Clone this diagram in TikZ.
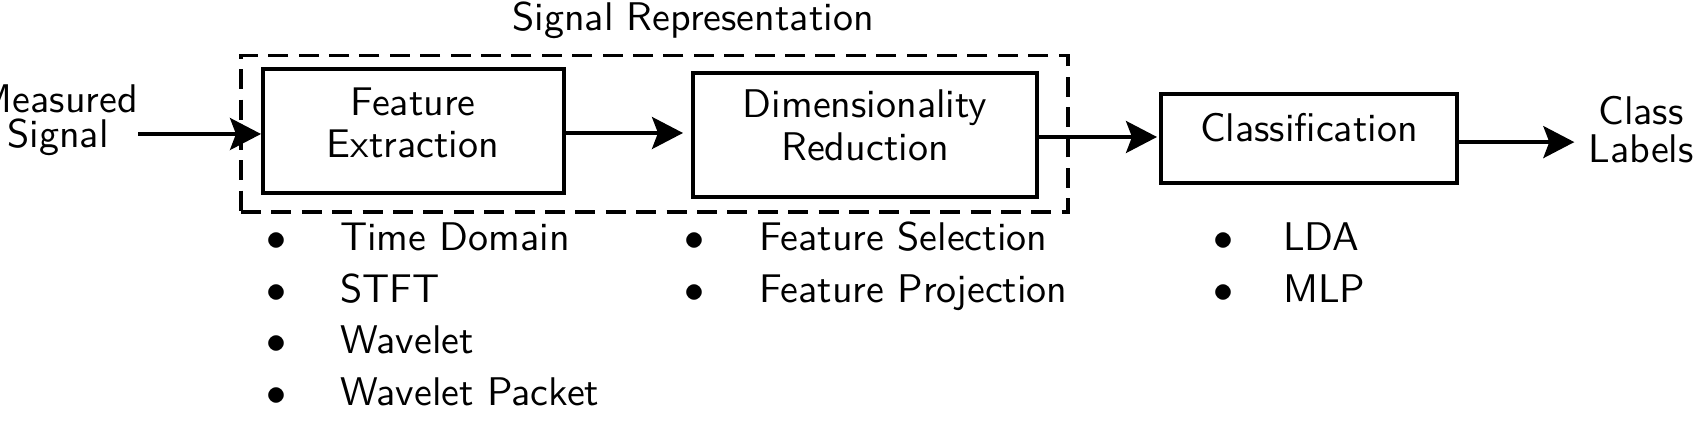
\documentclass[tikz,border=0pt]{standalone}
\usetikzlibrary{arrows.meta}
\begin{document}
\begin{tikzpicture}[x=0.25pt,y=-0.25pt,
  every node/.style={inner sep=0pt,outer sep=0pt,font=\sffamily\fontsize{10}{12}\selectfont},
  box/.style={draw,line width=0.85pt,minimum width=#1},
  dashbox/.style={draw,line width=0.85pt,dash pattern=on 5pt off 2.6pt},
  arr/.style={line width=0.85pt,-{Stealth[length=7.75pt,width=8pt,inset=1.5pt]}},
  bul/.style={anchor=base},
  item/.style={anchor=base west}]
\useasboundingbox (0,0) rectangle (1705,448);
% dashed group
\node[dashbox,minimum width=206.75pt,minimum height=39.1pt] (grp) at (654.5,133.75) {};
\node (grpT) at (693,20) {Signal Representation};
% boxes
\node[box=75.25pt,minimum height=31pt] (fe) at (413.5,131) {};
\node[box=86pt,minimum height=31pt] (dr) at (865,135) {};
\node[box=74pt,minimum height=22.25pt] (cls) at (1309,138.5) {};
% texts
\node[align=center,font=\sffamily\fontsize{10}{8.75}\selectfont] (ms) at (58,120.5) {Measured\\Signal};
\node[align=center,font=\sffamily\fontsize{10}{10.5}\selectfont] (feT) at (413,123) {Feature\\Extraction};
\node[align=center,font=\sffamily\fontsize{10}{10.75}\selectfont] (drT) at (865,125.6) {Dimensionality\\Reduction};
\node (clsT) at (1309,128) {Classification};
\node[align=center,font=\sffamily\fontsize{10}{9.5}\selectfont] (cl) at (1641,130) {Class\\Labels};
% arrows
\draw[arr,shorten >=0.5pt] ([yshift=-0.75pt]fe.west -| ms.east) -- ([yshift=-0.75pt]fe.west);
\draw[arr,shorten >=2.5pt] ([yshift=-0.5pt]fe.east) -- ([yshift=-0.5pt]fe.east -| dr.west);
\draw[arr,shorten >=1pt] ([yshift=-0.5pt]dr.east) -- ([yshift=-0.5pt]dr.east -| cls.west);
\draw[arr,shorten >=3.5pt] ([yshift=-0.9pt]cls.east) -- ([yshift=-0.9pt]cls.east -| cl.west);
% lists
\node[bul] (b1) at (277,251) {$\bullet$};
\node[item] (i1) at (340,251) {Time Domain};
\node[bul] (b2) at (277,302.5) {$\bullet$};
\node[item] (i2) at (340,302.5) {STFT};
\node[bul] (b3) at (277,354) {$\bullet$};
\node[item] (i3) at (340,354) {Wavelet};
\node[bul] (b4) at (277,405.5) {$\bullet$};
\node[item] (i4) at (340,405.5) {Wavelet Packet};
\node[bul] (b5) at (694,251) {$\bullet$};
\node[item] (i5) at (759,251) {Feature Selection};
\node[bul] (b6) at (694,302.5) {$\bullet$};
\node[item] (i6) at (759,302.5) {Feature Projection};
\node[bul] (b7) at (1223,251) {$\bullet$};
\node[item] (i7) at (1283,251) {LDA};
\node[bul] (b8) at (1223,302.5) {$\bullet$};
\node[item] (i8) at (1283,302.5) {MLP};
\end{tikzpicture}
\end{document}
